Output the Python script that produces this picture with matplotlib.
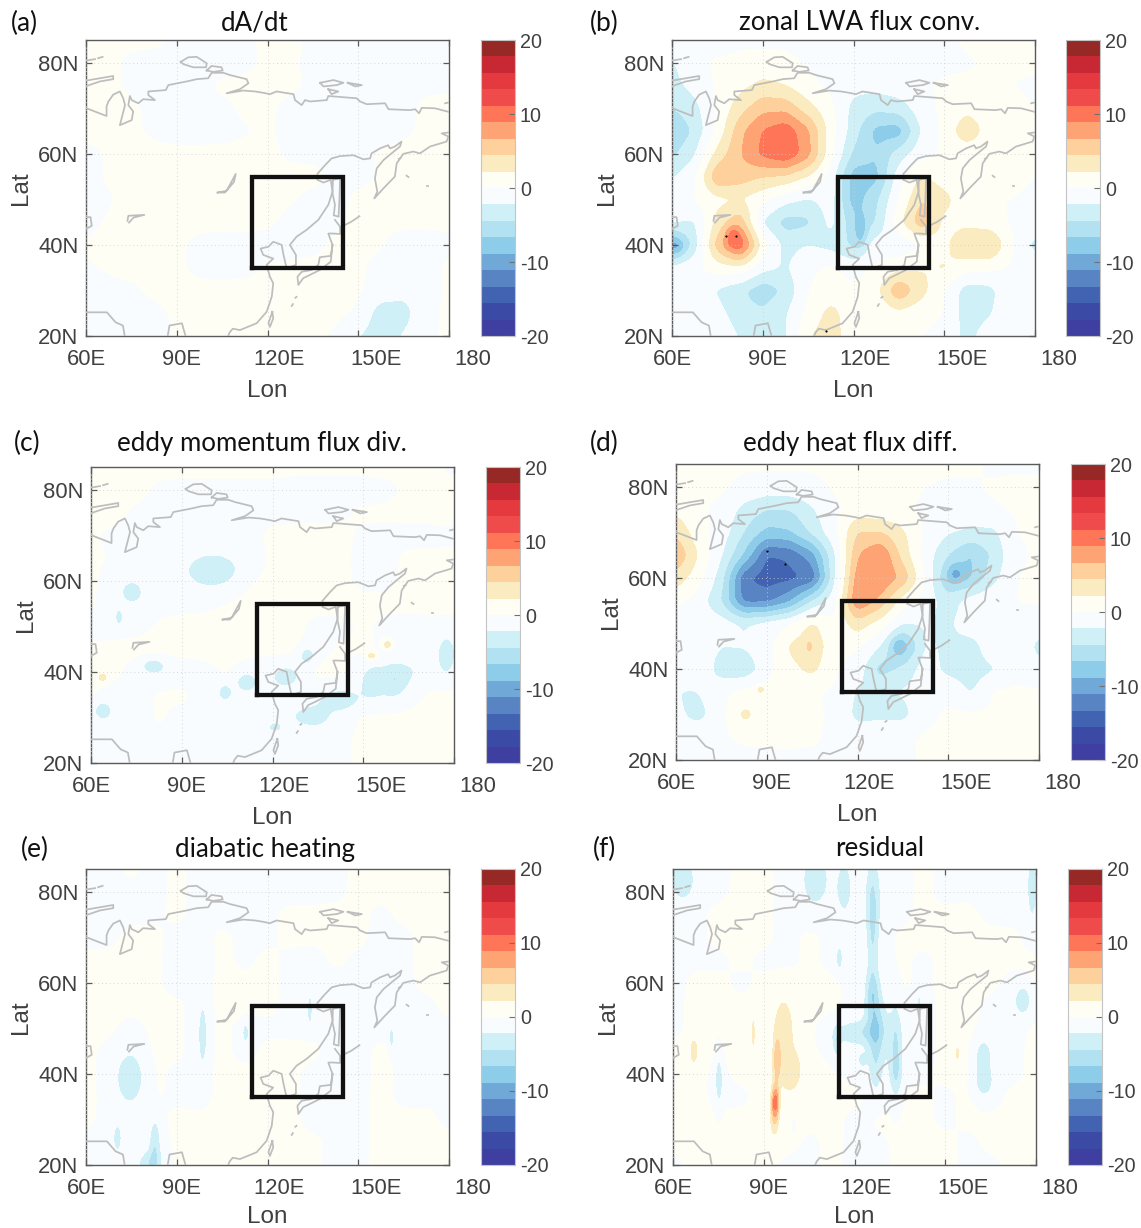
import numpy as np
import matplotlib
matplotlib.use("Agg")
import matplotlib.pyplot as plt
from matplotlib.ticker import FixedLocator
from matplotlib.transforms import Affine2D

W, H = 1141, 1228

# ------------------------------------------------------------------ data
lon_nodes = [60, 67.5, 75, 82.5, 90, 97.5, 105, 112.5, 120, 127.5, 135, 142.5, 150, 157.5, 165, 172.5, 180]
lat_nodes = [85, 80, 75, 70, 65, 60, 55, 50, 45, 40, 35, 30, 25, 20]
levels = np.linspace(-20, 20, 19)
band_colors = ["#3F3FA2", "#3B4BA5", "#4263B2", "#5884C4", "#70A8D8", "#8ECDE9", "#B2E2F2", "#CFF0F6", "#F8FCFF",
               "#FFFEF5", "#FBEBC0", "#FED09B", "#FEA474", "#FE7557", "#EE4B4A", "#E43A3F", "#C72833", "#962825"]

field_a = [
 [.3,.3,.3,.3,-.3,-.3,-.3,-.3,.3,.3,-.3,-.3,-.3,-.3,-.3,-.3,-.3],
 [.3,.3,-.3,-.5,-.5,-.5,-.5,-.3,.2,.2,-.3,-.5,-.5,-.3,-.3,-.3,-.3],
 [.3,.2,-.2,-.5,-.5,-.3,.2,.3,.2,.2,-.2,-.5,-.5,-.5,-.3,-.2,-.1],
 [.3,.3,.2,-.3,-.5,-.5,-.3,.2,.2,-.3,-.5,-.5,-.5,-.5,-.3,.2,.2],
 [.3,.3,.2,-.2,-.5,-.5,-.4,-.1,.2,-.5,-.5,-.5,-.5,-.4,-.2,.2,.2],
 [-.3,.1,.3,.3,.3,.3,.3,.3,.3,-.2,-.3,-.3,-.3,.1,.3,.3,.3],
 [-.3,.1,.3,.3,.3,.3,.3,.3,.3,.3,.3,-.3,-.3,.1,.3,.3,.3],
 [-.3,-.1,.3,.3,.3,.3,.3,.3,.3,.1,-.3,-.3,.2,.3,.3,.3,.3],
 [-.3,.1,.3,.3,.3,.3,.3,.3,.2,-.3,-.4,-.2,.2,.2,.2,.2,.2],
 [.1,.3,.3,.3,.2,-.3,-.5,-.4,-.5,-.5,-.3,.2,.3,.1,-.5,-.5,-.2],
 [-.1,.1,.3,.3,.2,-.3,-.4,-.3,.1,.2,.3,.3,.2,-.4,-.6,-.5,.2],
 [-.5,-.3,-.2,.2,.3,.3,.3,.3,.3,.3,.3,.3,.2,-.8,-1.5,-.5,.2],
 [-.5,-.5,-.4,-.3,.2,.3,.3,.3,.3,.3,.3,.3,-.2,-3.6,-3.3,-.3,.2],
 [-.5,-.5,-.5,-.4,.1,.3,.3,.3,.3,.3,.3,-.2,-2.2,-3.6,-2,-.3,.2]]

field_b = [
 [-.5,-.5,-1,-.5,-.5,-.5,-.5,-.5,-.5,-.5,-.5,-.5,-.5,.3,1,1,1],
 [-2.5,-.5,.3,.5,.8,.5,-.3,-.5,-.8,-.5,-.5,-.5,-.5,-.3,.3,.3,.3],
 [-3,-1.5,.3,1.5,2.8,2.2,.5,-.5,-1.5,-1.5,-.8,-.3,.3,.5,.3,0,-.3],
 [-4.5,-3,.3,3.5,6,6,3,.5,-3,-4,-3.5,-1,.5,1.5,1,.5,0],
 [-7,-4,.5,6,9,10.5,7,1,-3.5,-7.5,-8,-2,.5,4,1,.3,0],
 [-5,-2.5,3,6.5,9.5,11,7.5,.5,-5,-6.5,-3.5,-.8,.3,.5,.3,.3,0],
 [-2.5,-.5,6.5,5.5,4.5,4,2,-1,-8,-7.5,-1,2.5,1,.3,.3,.3,0],
 [-.5,0,1.5,2.2,.5,-1.5,-2.5,-1.2,-8,-5,0,4.5,3,.5,0,0,-.3],
 [-2,-2.5,3,6,-2.5,-5.5,-5,-1.5,-6,-4.5,1.5,6,1.5,1.5,.8,-.3,-.5],
 [-10,-3.5,5.5,11,1,-3,-2.2,-3,-5,-1,-2,0,1.5,4.5,5,0,-3],
 [-1.5,-.5,1,1.5,-1.5,-2.5,-.5,.3,-1,.3,1.5,2,2.5,.8,.5,-.3,-.5],
 [-.3,-.5,-2.5,-4,-6,-4,0,1,.5,1.5,6.5,3,0,-3.5,-3,-.3,-.3],
 [-.3,-.3,-1.5,-3.5,-4,-2.5,.5,3,.8,.3,1.5,.5,0,-3.5,-2.5,-.3,0],
 [0,0,-.3,-2.5,-3.5,-2.5,2,3.5,.5,.3,0,0,-.5,-3,-1,0,0]]

field_c = [
 [.3,.3,.3,.3,.3,.3,.3,.3,.3,.3,.3,.3,.3,.3,.3,.3,-.3],
 [.3,.3,.3,-.2,-.3,-.3,-.3,-.3,-.3,-.5,-.5,-.5,-.5,-.3,.2,.3,.3],
 [.3,.3,-.2,-.3,-.3,-.3,-.3,-.3,-.3,-.3,-.3,-.2,.2,.2,.3,.3,.3],
 [.1,-.2,-.3,-.3,-.3,-.3,-.3,-.3,.2,.3,.3,.3,-.2,-.3,-.3,-.3,-.2],
 [.2,-.1,-.3,-.5,-.7,-.7,-.5,-.4,.2,.3,.3,.2,-.3,-.3,.2,.2,.2],
 [.2,-.5,-.7,-.5,-.8,-.8,-.4,.2,.3,.3,.3,.2,-.2,-.2,.2,.3,.3],
 [.1,-.5,-.7,-.3,-.3,-.2,.1,.3,.3,.3,.3,.2,.2,.2,.3,.3,.3],
 [-.3,-.5,-.3,.1,.3,.3,.3,.3,.3,.2,-.3,-.2,.1,-.2,-.5,-.3,-.3],
 [.1,.3,.3,.3,.3,.3,.3,.3,.3,.2,-.3,.1,.2,-.2,-.5,-.8,-1],
 [.2,.2,-.4,-.9,-.5,-.3,.1,-.5,-.8,-.8,.3,.3,-1,-2.2,-2.5,-1,-.5],
 [.1,-.3,-.3,.1,.2,-.5,-.9,-.9,-.5,.2,-.8,-1.5,-1.5,-1.5,-.5,.2,.3],
 [-.5,-.5,-.4,.1,-.3,-.5,-.5,-.5,-.5,-1.5,-2.2,-.8,.2,.3,.3,.3,.3],
 [-.3,-.3,-.3,-.2,-.2,-.3,-.5,-.5,-.8,-.5,-.3,-.2,.2,.3,.3,.3,.3],
 [-.3,-.3,-.3,-.3,-.3,-.3,-.3,-.3,-.3,-.3,-.3,-.2,.2,.3,.3,.3,.3]]

field_d = [
 [.3,.3,.3,.3,.3,.3,.3,.3,.3,.3,.3,.3,.3,.3,-.3,-.3,-.3],
 [.3,.3,.3,-.5,-.8,-.8,-.5,.2,.3,.3,.3,0,-.2,-.2,.2,.3,.3],
 [1.5,.3,-.5,-3,-4.5,-4.5,-2.5,-.3,.8,.5,.3,-.3,-.8,-.5,-.2,.2,.2],
 [4,.8,-1,-4.5,-7.5,-7,-4,-.5,4.5,4.5,2.5,-.5,-2,-2.8,-2.8,0,.2],
 [6.5,2,-2,-7,-13.5,-13,-10,-2.5,6.5,9,3.5,-1,-4.5,-7,-4,-.3,.2],
 [3.5,.8,-3.5,-13,-14.5,-14,-13,-2.5,8,9,6,-.3,-7,-7,-3,0,.2],
 [.5,-1,-4.5,-12,-12,-9.5,-4.5,-1,9,6,1,-1,-3.5,-1.2,-.3,0,.2],
 [-1,-1,-1.2,-2.5,-1.5,-.3,2.5,.3,3.5,1.2,-2.2,-2,-2.8,-.5,-.3,-.3,-1],
 [-.5,-.8,-2.2,-2,-1,2.5,4,.5,.3,-2.2,-8.5,-2,-2.5,-3.5,-.3,-.3,-3],
 [-.3,-.3,-3.5,-4,-.8,1.5,2.8,.3,-1,-5.5,-4,-1,-3,-3.5,-2.5,-.3,-1.5],
 [-2.3,-2,-.5,.5,.5,1.8,.2,-.3,-2.5,-2.5,-2,-1,-.5,-2.5,.2,.2,.2],
 [-1,-3,-.8,3,1,.3,.2,-.2,-3,-2.8,-3,-.5,.3,.3,.2,.3,.3],
 [-.3,-.5,-.3,.3,.3,.3,.2,-.3,-.8,-.5,-.3,.2,.2,.3,.3,.3,.3],
 [-.3,-.5,-.5,-.5,-.3,-.3,-.3,-.3,-.5,-.3,-.3,.2,.2,.2,.2,.2,.2]]

field_e = [
 [-.3,-.3,.2,-.3,.2,-.3,-.3,-.3,-.3,-.3,-.3,-.3,.2,.2,.2,.2,.2],
 [-.3,-.3,-.3,-.3,.2,-.3,-.3,-.3,-.3,-.3,-.3,-.2,.2,.2,.2,.2,.2],
 [-.3,-.3,-.2,-.2,.2,-.3,-.3,-.3,-.2,.2,.2,.2,.2,-.2,.2,.2,.2],
 [-.3,-.2,.2,.2,-.3,-.4,.2,-.3,-.2,.2,.2,.2,.2,-.3,-.2,.2,.2],
 [.2,.2,.2,.2,-.4,-.5,.2,-.2,.2,-.2,-.4,.2,-.2,-.3,-.2,.2,.2],
 [.2,.2,.2,.2,-.4,-.4,.2,.2,.2,-.2,-.4,-.4,-.3,-.3,-.2,.2,.2],
 [.2,.2,.2,.2,.2,-.4,.2,.2,.2,-.2,-.5,-.3,-.3,-.3,-.3,-.2,.2],
 [.2,.2,-.2,.2,.2,-.5,.2,-.3,-.2,-.2,-.3,-.3,-.3,-.3,-.2,-.2,-.2],
 [.2,-.2,-.3,.2,.2,-.5,.2,-.3,.2,.2,.2,-.3,-.3,.2,-.2,-.2,-.2],
 [.2,-.3,-.5,.2,-.2,-.3,.2,.2,.2,.2,-.3,-.3,-.3,.2,-.2,-.2,-.2],
 [.2,-.2,-.3,.2,-.2,-.3,.2,.2,.2,.2,-.3,-.3,-.2,.2,-.2,-.2,-.2],
 [.2,-.3,.2,-.3,.2,.2,.2,.2,.2,.2,-.3,-.3,-.2,.2,.2,.2,-.2],
 [-.3,-.5,-.3,-.5,.2,.2,.2,.2,.2,.2,.2,-.3,-.2,.2,.2,.2,.2],
 [-.3,-.3,-.3,-.8,.2,.2,.2,.2,.2,.2,.2,-.3,-.2,.2,.2,.2,.2]]

field_f = [
 [-.5,-.4,-.3,.2,.2,-.3,-.5,-.6,-.4,-.8,-.3,.2,-.2,-.2,-.3,-.3,-.7],
 [-.5,-.3,-.2,.2,.2,-.3,-.5,-.6,-.4,-.8,-.4,.2,-.3,-.2,-.3,-.3,-.7],
 [-.3,-.2,.2,.2,.2,-.3,-.4,-.3,-.3,-.8,-.3,.2,.2,.2,-.2,-.3,-.5],
 [-.3,-.2,.2,.2,.2,-.3,.2,-.2,-.4,-.8,.2,.2,.2,.2,.2,.2,-.5],
 [-.4,-.2,-.2,.2,-.2,-.3,.2,-.3,-.4,-.8,.2,-.2,.2,.2,.2,.2,.2],
 [-.3,.2,.2,-.2,.2,.2,.2,.2,-.3,-.8,.2,-.2,.2,.2,.2,-.3,.2],
 [-.2,.2,.2,.2,.2,.3,.2,.2,-.3,-.9,-.2,-.3,.2,.2,-.2,-.8,-.3],
 [-.2,.2,.2,.2,.3,.8,.2,-.3,-.8,-1,-.8,-.3,.2,.2,-.3,-.3,.2],
 [.2,.3,.2,.2,.3,.5,.2,-.3,-.5,-1,-.8,-.3,.2,.2,-.5,-.2,.2],
 [.2,.2,-.2,.2,.2,.8,.2,.2,-.3,-1,-.8,-.2,.2,.2,-.5,-.2,.2],
 [.2,.2,-.2,-.2,.3,.8,.2,.2,.2,-.3,.2,.2,-.2,.2,-.3,.2,.2],
 [.2,.2,.2,.2,.3,.8,.2,.2,-.2,.2,.2,.2,-.2,.2,.2,.2,.2],
 [.2,.2,.2,.2,.2,.3,-.2,.2,-.2,-.2,.2,.2,.2,-.2,.2,.2,.2],
 [-.2,.2,.2,.2,.2,-.2,-.2,.2,-.3,-.3,.2,.2,.2,-.2,-.2,.2,.2]]

# narrow local extremes: centre lon, centre lat, value, half-width lon, half-width lat
cells_b = [(80,42,3,1.5,1.5),(122.5,43,-3.5,1.5,2.5),(62,39.5,-1.5,1.5,1.5)]
cells_c = [(100.7,62.3,-3.4,6.5,2.8),(73.5,57.5,-3.4,2.5,1.7),(69.3,52,-3.7,.9,1.2),(80.6,41.3,-3.5,2.8,1.2),
           (64,31.5,-3.6,2.2,1.5),(104.3,35.5,-3.5,1.5,1.2),(111.4,37.8,-3.3,2.5,1.5),(124.4,38.8,-3.4,3,1.7),
           (131.5,43.6,-3.4,2,1.5),(152.8,43.5,3.8,1.2,.6),(158,46,3.8,1,.7),(63.8,38.8,3.8,1,.6),(152.8,37.8,-2.3,2.5,2.5),
           (160.5,37.8,-2.6,3,2.5),(177.5,43.6,-3.3,2,3),(132.7,30.4,-2.2,4,1.5),(142,33.7,-3.1,4,1.5),(120.8,27.9,-3.5,1.5,.7)]
cells_d = [(152.5,61,-3,2,1.5),(133,45,-1.8,1.5,1.5),(104,45,1.2,1,1.5),(88,35.5,2.8,1,.6),(65,32,-1,2,2)]
cells_e = [(74.6,39,-3.7,3.5,4.5),(98.6,48.6,-3.6,1.1,5),(112.8,49,-3.7,.8,1.6),(134,54,-3.7,.6,2.5),(161,48,-3.7,.6,1.8),
           (82.8,24.8,-3.6,1.4,4),(81,20.4,-3.2,3,2),(70.4,26,-3.7,1,2.2)]
cells_f = [(126,79,-3.3,1.8,6),(126,69.5,-3.1,1.4,7),(126,57.7,-4.5,1.8,3.5),(127.2,50.4,-4.6,2.5,4),(127,42.4,-3,1.8,5),
           (107,82.7,-3.8,3,4),(116.6,80.8,-3.6,1.8,4),(63.3,82.6,-3.5,3,3.5),(178.7,81,-3.4,1.2,5),(115,65.4,-3.7,.8,2),
           (120,49,-3.2,5,2),(133.7,48.2,-3.1,1.5,6),(133.7,40,-3.3,1.5,4.5),(122.5,43,-3.5,.9,1),(114,46.8,-3.2,1,2.5),
           (75.2,38.7,-3.7,1,4),(175.7,56.3,-3.4,2,2.5),(162.5,44.2,-3.5,2,2.5),(162.7,38.3,-3.6,2.3,2.5),(141.4,55,-3.7,.5,2),
           (100,28.8,-3.7,.4,1),(93.8,34,8.5,.8,2.5),(93.5,30,3,1,3),(94.3,43,4.5,.8,3.5),(96.5,50.4,3.3,2.2,5),(98.8,41,3.3,2.8,3.5),
           (66.9,45,3.7,.8,2),(86.6,49,3.4,.3,2.5),(154,44.5,3.7,.4,1)]

dots_b_lon, dots_b_lat = [78, 81, 111], [42, 42, 21]
dots_d_lon, dots_d_lat = [90, 96], [66, 63]

box_lon = [115, 145, 145, 115, 115]
box_lat = [35, 35, 55, 55, 35]

coast_lines = [
 # Arctic coast, west to east
 [(60.2,70),(66.8,68.3),(66.8,70.4),(67.4,71.5),(69,73),(71.2,73.7),(72.3,72.2),(72.9,70.7),(71.2,66.3),(75.1,67.4),(75.6,69.3),(74,70.7),
  (74.5,72.7),(75.1,71.8),(77.3,71.1),(78.9,72),(82.8,71.8),(80.6,72.9),(80.6,73.7),(86.4,74),(87.2,75.1),(93.3,75.9),(96.6,76.4),(100.4,76.6),
  (101.5,77.8),(105.4,77.8),(107.6,77.3),(113.1,76.4),(113.7,75.5),(110.9,74.2),(106.5,73.3),(112,73.9),(115.9,73.7),(118.6,73.4),(120.8,73.1),
  (123,73.7),(128.6,73.1),(129.1,71.8),(131.3,70.7),(132.4,71.8),(134.1,71.5),(139.6,71.8),(140.1,72.7),(149.5,72.2),(150.6,71.5),(152.8,70.9),
  (158.9,71.1),(160,69.8),(167.1,69.6),(168.8,69.8),(170.1,68.9),(171,70.1),(175.4,70),(180,69.2)],
 [(60.2,74.9),(64.6,75.9),(69,76.4),(69,77.1),(60.2,76.1)],
 [(60.2,80.5),(63,80.8)], [(64,81),(65.5,81.3)],
 [(91.3,80.2),(93.8,81.2),(96.6,81.3),(99.9,79.9),(99.7,79),(95.5,79),(92.2,79.7),(91.3,80.2)],
 [(99.9,78.3),(101.5,79.3),(104.8,79),(105.2,78.3),(102.1,78),(99.9,78.3)],
 [(137.4,75.6),(141.8,76.2),(145.1,75.6),(142.9,75.1),(138.5,74.8),(137.4,75.6)],
 [(146.5,75.6),(151.2,75.1),(149,74.8),(146.5,75.6)],
 [(140.1,74.2),(143.4,73.7),(141.2,73.1),(140.1,74.2)],
 [(178.7,71.1),(180,71.3)],
 # Okhotsk coast and Kamchatka
 [(136.5,55.6),(139,57.5),(141.2,59),(144,59.5),(148.4,59.7),(151.7,58.8),(153.9,59),(154.4,60.1),(157.2,61.2),(159.9,61.9),(160.5,61.2),
  (162.1,61.6),(164.3,62.7),(163.8,61.6),(161,60.1),(158.3,58.6),(156.1,56.8),(155.5,54.6),(156.3,51.7),(155.3,50.2),(158.3,52.4),(159.9,53.5),
  (162.1,55),(162.7,57.9),(164.9,60),(168.2,60.5),(170.4,60.1),(173.7,61.6),(179.2,62.7),(179.8,63.8),(177.6,64.5),(180,64.7)],
 # Amur to Korea and China
 [(136.5,54.3),(138.5,53.7),(140.9,54.3),(141.5,51.7),(140.1,48.8),(136.8,45.5),(132.9,43.3),(129.6,41.8),(127.4,40),(129.4,37.8),(129.4,35.6),
  (126.3,34.9),(125.2,38.1),(124.7,40),(121.9,40.7),(120.3,39.6),(117.7,39.2),(118.6,37.8),(121.9,37),(119.7,35.6),(120.8,33),(121.9,31.6),
  (121.4,28.6),(119.7,25.3),(116.4,22.8),(110.9,21.3),(108.5,21.6),(107.5,20.8),(107,20)],
 [(121.6,25.3),(120.3,22.8),(120.8,22),(121.9,23.9),(121.6,25.3)],
 # Sakhalin
 [(141.6,54.3),(144,54.6),(143.8,50.6),(143.5,46.2),(141.9,46.5),(142.3,48.8),(141.5,51.3),(141.6,54.3)],
 # Japan
 [(142.3,45.5),(144,44),(144,42.4),(141.8,42.5),(140.1,42.5),(140.7,41.4),(141.5,40),(140.9,37.6),(137.3,37.3),(136.8,35.6),(134.6,34.5),
  (131.3,34.1),(129.9,33),(130.2,31.2),(131.8,32.7),(134,33.4),(137.3,34.5),(140.9,36.3),(141.5,40)],
 # Kuril and Ryukyu chains
 [(145.6,44.4),(147.5,45),(150.4,46.3)], [(166,55.2),(166.6,54.9)], [(172.6,53),(173,53)], [(163.4,58.9),(164,59.1)],
 [(128,26.6),(128.4,27)], [(129.2,28.4),(129.6,28.6)],
 # Lakes
 [(103.5,51.5),(106.5,51.9),(109.5,55.6),(108.9,53.8),(105.9,51.5),(103.5,51.5)],
 [(73.7,45.3),(74,46.4),(79.3,46.6),(75.7,46),(74.2,44.9)],
 [(60,46.1),(61.5,46.1),(61.9,44.2),(60,43.5)],
 # South Asia
 [(60,25.2),(66.9,25.2),(69.8,23),(72.2,22.3),(72.8,20)],
 [(87,20),(87.6,22.3),(91.7,22.8),(92.9,20)],
]

panels = [
 ("(a)", "dA/dt", field_a, [], (86, 449, 40, 336), (481, 515), (24, 21), (255, 21), [], []),
 ("(b)", "zonal LWA flux conv.", field_b, cells_b, (672, 1035, 40, 336), (1066, 1100), (604, 21), (860, 21), dots_b_lon, dots_b_lat),
 ("(c)", "eddy momentum flux div.", field_c, cells_c, (91, 454, 467, 763), (486, 520), (27, 441), (262, 441), [], []),
 ("(d)", "eddy heat flux diff.", field_d, cells_d, (676, 1039, 464, 760), (1071, 1105), (604, 441), (850, 441), dots_d_lon, dots_d_lat),
 ("(e)", "diabatic heating", field_e, cells_e, (86, 449, 869, 1165), (481, 515), (35, 847), (265, 847), [], []),
 ("(f)", "residual", field_f, cells_f, (673, 1036, 869, 1165), (1068, 1102), (604, 847), (880, 847), [], []),
]

xticks = [60, 90, 120, 150, 180]
xticklabels = ["60E", "90E", "120E", "150E", "180"]
xlabel_shift_px = [0, 5, 11.5, 18, 24]
yticks = [20, 40, 60, 80]
yticklabels = ["20N", "40N", "60N", "80N"]
cticks = [-20, -10, 0, 10, 20]

# ------------------------------------------------------------------ helpers
plt.rcParams["font.family"] = ["Liberation Sans", "DejaVu Sans"]
TEXT = "#404040"
FRAME = "#5a5a5a"
COAST = "#BDBDBD"
TITLE_FONT = ["Lato", "DejaVu Sans"]


def rect(x0, x1, y0, y1):
    return [x0 / W, 1 - y1 / H, (x1 - x0) / W, (y1 - y0) / H]


def smooth1d(a, n, axis):
    k = np.hanning(2 * n + 3)[1:-1]
    k /= k.sum()
    pad = [(0, 0), (0, 0)]
    pad[axis] = (n, n)
    b = np.pad(a, pad, mode="edge")
    return np.apply_along_axis(lambda v: np.convolve(v, k, mode="valid"), axis, b)


fine_lon = np.arange(60, 180.01, 0.5)
fine_lat = np.arange(20, 85.01, 0.25)
LON, LAT = np.meshgrid(fine_lon, fine_lat)
node_lat = np.array(lat_nodes)[::-1]


def render_field(grid, cells):
    g = np.array(grid, float)[::-1]
    a = np.array([np.interp(fine_lon, lon_nodes, row) for row in g])
    b = np.array([np.interp(fine_lat, node_lat, col) for col in a.T]).T
    b = smooth1d(b, 7, 0)
    b = smooth1d(b, 5, 1)
    for lo, la, v, wx, wy in cells:
        r = ((LON - lo) / wx) ** 2 + ((LAT - la) / wy) ** 2
        b = b + v * np.exp(-0.5 * r)
    return b


# ------------------------------------------------------------------ figure
fig = plt.figure(figsize=(W / 100, H / 100), dpi=100, facecolor="white")

for tag, title, grid, cells, box, cbx, tagxy, titlexy, dx, dy in panels:
    x0, x1, y0, y1 = box
    ax = fig.add_axes(rect(x0, x1, y0, y1))
    cf = ax.contourf(LON, LAT, render_field(grid, cells), levels=levels, colors=band_colors, extend="neither")
    for line in coast_lines:
        ax.plot(*zip(*line), color=COAST, lw=1.25, solid_joinstyle="round", zorder=3)
    ax.plot(box_lon, box_lat, color="#111111", lw=3.1, solid_joinstyle="miter", zorder=5)
    if dx:
        ax.scatter(dx, dy, s=2.5, color="black", zorder=6, linewidths=0)
    ax.set_xlim(60, 180)
    ax.set_ylim(20, 85)
    ax.xaxis.set_major_locator(FixedLocator(xticks))
    ax.yaxis.set_major_locator(FixedLocator(yticks))
    ax.set_xticklabels(xticklabels)
    ax.set_yticklabels(yticklabels)
    ax.tick_params(direction="in", length=4, width=0.9, color=FRAME, top=True, right=True,
                   labelsize=15.8, labelcolor=TEXT)
    ax.tick_params(axis="x", pad=9.2)
    ax.tick_params(axis="y", pad=5.5)
    for lab, shift in zip(ax.get_xticklabels(), xlabel_shift_px):
        lab.set_transform(lab.get_transform() + Affine2D().translate(shift, 0))
    ax.grid(True, color="#cfcfcf", lw=0.7, linestyle=(0, (1, 3)), alpha=0.8, zorder=2)
    ax.set_axisbelow(False)
    for s in ax.spines.values():
        s.set_color(FRAME)
        s.set_linewidth(1.0)
    ax.set_xlabel("Lon", fontsize=17.5, color=TEXT)
    ax.set_ylabel("Lat", fontsize=17.5, color=TEXT)
    lon_gap = 52 if y1 > 1000 else 55
    ax.xaxis.set_label_coords(0.5, -lon_gap / 296, transform=ax.transAxes)
    ax.yaxis.set_label_coords(-65 / 363, 0.5, transform=ax.transAxes)
    ax.xaxis.label.set_va("center")
    ax.yaxis.label.set_va("center")

    cax = fig.add_axes(rect(cbx[0], cbx[1], y0, y1))
    cb = fig.colorbar(cf, cax=cax, ticks=cticks, spacing="proportional")
    cb.ax.set_yticklabels([str(t) for t in cticks])
    cb.ax.tick_params(direction="in", length=4, width=0.8, color="#707070", labelsize=14.2,
                      labelcolor=TEXT, pad=3.5)
    cb.outline.set_edgecolor("#c4c4c4")
    cb.outline.set_linewidth(0.8)

    fig.text(tagxy[0] / W, 1 - (tagxy[1] + 2) / H, tag, fontsize=19, family=TITLE_FONT, color="#111111",
             ha="center", va="center")
    fig.text(titlexy[0] / W, 1 - (titlexy[1] + 2) / H, title, fontsize=18.6, family=TITLE_FONT, color="#111111",
             ha="center", va="center")

fig.savefig("out.png", dpi=100)
